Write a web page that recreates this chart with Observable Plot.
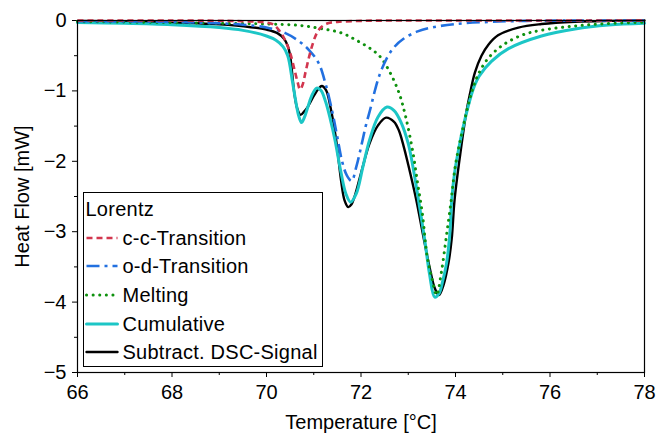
<!DOCTYPE html>
<html>
<head>
<meta charset="utf-8">
<script src="https://cdn.jsdelivr.net/npm/d3@7"></script>
<script src="https://cdn.jsdelivr.net/npm/@observablehq/plot@0.6"></script>
<style>
  html, body { margin: 0; padding: 0; background: #fff; }
  #wrap { position: relative; width: 656px; height: 433px; font-family: "Liberation Sans", Arial, sans-serif; }
  #legend { position: absolute; left: 83px; top: 192px; width: 238px; height: 173px; border: 1.5px solid #000; background: #fff; box-sizing: content-box; }
  .lrow { position: absolute; font-size: 20px; line-height: 24px; white-space: nowrap; color: #000; letter-spacing: 0.25px; }
  .lsample { position: absolute; }
</style>
</head>
<body>
<div id="wrap"><div id="chart"></div><div id="legend"></div></div>
<script>
// ---- data (Temperature in °C, Heat Flow in mW) ----
const ccT = [66, 68, 69.5, 70.0, 70.15, 70.3, 70.4, 70.5, 70.6, 70.66, 70.71, 70.76, 70.83, 70.9, 70.97, 71.05, 71.15, 71.3, 71.5, 72, 74, 78];
const ccY = [0, 0, -0.01, -0.03, -0.06, -0.17, -0.29, -0.46, -0.72, -0.88, -0.98, -0.92, -0.72, -0.52, -0.35, -0.2, -0.1, -0.04, -0.02, -0.005, 0, 0];

const odT = [66, 68, 69, 69.5, 70.0, 70.4, 70.7, 70.9, 71.1, 71.25, 71.4, 71.5, 71.6, 71.7, 71.8, 71.9, 72.0, 72.1, 72.2, 72.3, 72.4, 72.55, 72.7, 72.9, 73.2, 73.5, 74, 74.7, 75.5, 78];
const odY = [-0.01, -0.02, -0.04, -0.06, -0.1, -0.18, -0.3, -0.42, -0.6, -0.9, -1.32, -1.66, -2.0, -2.2, -2.28, -2.08, -1.8, -1.5, -1.25, -0.98, -0.76, -0.53, -0.38, -0.26, -0.155, -0.1, -0.05, -0.02, -0.005, 0];

const meltT = [66, 68, 69, 70, 70.7, 71.2, 71.6, 71.9, 72.2, 72.4, 72.6, 72.8, 72.95, 73.1, 73.2, 73.3, 73.4, 73.5, 73.6, 73.7, 73.8, 73.9, 74.0, 74.15, 74.3, 74.4, 74.5, 74.7, 75.0, 75.4, 75.8, 76.5, 77.2, 78];
const meltY = [-0.015, -0.03, -0.04, -0.05, -0.07, -0.12, -0.18, -0.28, -0.4, -0.51, -0.72, -1.02, -1.38, -1.88, -2.32, -2.75, -3.35, -3.66, -3.9, -3.58, -3.1, -2.6, -2.05, -1.55, -1.12, -0.9, -0.74, -0.53, -0.35, -0.21, -0.14, -0.08, -0.045, -0.025];

const cumT = [66, 67, 68, 69, 69.5, 70.0, 70.2, 70.35, 70.45, 70.55, 70.62, 70.68, 70.74, 70.8, 70.87, 70.95, 71.06, 71.15, 71.25, 71.35, 71.45, 71.58, 71.68, 71.78, 71.9, 72.04, 72.18, 72.36, 72.55, 72.7, 72.85, 73.0, 73.1, 73.2, 73.35, 73.45, 73.56, 73.65, 73.73, 73.81, 73.88, 73.92, 73.98, 74.06, 74.15, 74.3, 74.4, 74.5, 74.76, 75.12, 75.82, 76.53, 77.24, 78];
const cumY = [-0.03, -0.04, -0.06, -0.1, -0.14, -0.22, -0.28, -0.37, -0.5, -0.87, -1.15, -1.35, -1.45, -1.38, -1.24, -1.08, -0.96, -0.99, -1.15, -1.4, -1.7, -2.17, -2.46, -2.58, -2.46, -2.08, -1.7, -1.37, -1.23, -1.28, -1.45, -1.75, -2.08, -2.48, -3.12, -3.6, -3.93, -3.88, -3.7, -3.45, -3.03, -2.55, -2.17, -1.85, -1.55, -1.14, -0.93, -0.79, -0.58, -0.4, -0.22, -0.12, -0.064, -0.04];

const dscT = [66, 67, 68, 69, 69.67, 70.0, 70.23, 70.37, 70.45, 70.5, 70.59, 70.65, 70.72, 70.8, 70.87, 71.01, 71.1, 71.17, 71.26, 71.36, 71.47, 71.58, 71.65, 71.73, 71.8, 71.86, 72.0, 72.18, 72.36, 72.53, 72.7, 72.8, 72.9, 73.0, 73.17, 73.3, 73.45, 73.56, 73.65, 73.75, 73.85, 73.92, 73.98, 74.1, 74.23, 74.3, 74.41, 74.55, 74.7, 74.9, 75.33, 75.82, 76.53, 77.3, 78];
const dscY = [-0.005, -0.01, -0.03, -0.055, -0.095, -0.13, -0.18, -0.26, -0.36, -0.5, -1.04, -1.25, -1.34, -1.29, -1.23, -1.06, -0.97, -0.93, -0.99, -1.25, -1.68, -2.28, -2.55, -2.65, -2.61, -2.51, -2.17, -1.75, -1.49, -1.38, -1.44, -1.56, -1.78, -2.05, -2.55, -3.0, -3.5, -3.8, -3.9, -3.75, -3.45, -3.1, -2.55, -1.9, -1.3, -1.06, -0.74, -0.5, -0.34, -0.21, -0.1, -0.05, -0.017, -0.005, 0];

const seriesNames = ["c-c-Transition", "o-d-Transition", "Melting", "Cumulative", "Subtract. DSC-Signal"];
const legendTitle = "Lorentz";
const xMajor = [66, 68, 70, 72, 74, 76, 78];
const xMinor = [67, 69, 71, 73, 75, 77];
const yMajor = [-5, -4, -3, -2, -1, 0];
const yMinor = [-4.5, -3.5, -2.5, -1.5, -0.5];
const xLabel = "Temperature [°C]";
const yLabel = "Heat Flow [mW]";

// ---- styles ----
const styles = [
  {stroke: "#d2364e", strokeWidth: 2.6, strokeDasharray: "6,4", strokeLinecap: "butt"},
  {stroke: "#2270e0", strokeWidth: 2.6, strokeDasharray: "13,5,3,5", strokeLinecap: "butt"},
  {stroke: "#0e910e", strokeWidth: 3, strokeDasharray: "0.1,6.5", strokeLinecap: "round"},
  {stroke: "#1cc6c6", strokeWidth: 3, strokeDasharray: null, strokeLinecap: "round"},
  {stroke: "#000000", strokeWidth: 2.4, strokeDasharray: null, strokeLinecap: "round"}
];

const toRows = (T, Y) => T.map((t, i) => ({t, v: Y[i]}));
const series = [toRows(ccT, ccY), toRows(odT, odY), toRows(meltT, meltY), toRows(cumT, cumY), toRows(dscT, dscY)];

const lineMark = (k) => Plot.line(series[k], {
  x: "t", y: "v", curve: "catmull-rom",
  stroke: styles[k].stroke, strokeWidth: styles[k].strokeWidth,
  strokeDasharray: styles[k].strokeDasharray || undefined,
  strokeLinecap: styles[k].strokeLinecap, strokeLinejoin: "round"
});

const yFmt = (d) => d === 0 ? "0" : (d < 0 ? "\u2212" : "") + Math.abs(d);

const chart = Plot.plot({
  width: 656, height: 433,
  marginLeft: 77, marginRight: 12, marginTop: 20, marginBottom: 61,
  x: {domain: [66, 78]},
  y: {domain: [-5, 0]},
  style: {fontFamily: '"Liberation Sans", Arial, sans-serif', fontSize: "20px", color: "#000", background: "#fff", overflow: "visible"},
  marks: [
    Plot.axisX(xMajor, {tickSize: 5, tickPadding: 7, fontSize: 20, tickFormat: (d) => String(d), label: xLabel, labelAnchor: "center", labelOffset: 56, labelArrow: "none"}),
    Plot.axisX(xMinor, {tickSize: 3, tickFormat: () => "", label: null}),
    Plot.axisY(yMajor, {tickSize: 5, tickPadding: 6, fontSize: 20, tickFormat: yFmt, label: yLabel, labelAnchor: "center", labelOffset: 63, labelArrow: "none"}),
    Plot.axisY(yMinor, {tickSize: 3, tickFormat: () => "", label: null}),
    lineMark(4),
    lineMark(3),
    lineMark(2),
    lineMark(1),
    lineMark(0),
    Plot.frame({stroke: "#000", strokeWidth: 1.2})
  ]
});
document.getElementById("chart").appendChild(chart);

// ---- legend (inside the plot area) ----
const legend = document.getElementById("legend");
const L0 = 192, Lx = 83;
const title = document.createElement("div");
title.className = "lrow";
title.style.left = (86 - Lx - 1.5) + "px";
title.style.top = (209 - 12 - L0 - 1.5) + "px";
title.textContent = legendTitle;
legend.appendChild(title);
const rowY = [238, 266.5, 295, 324, 352.5];
seriesNames.forEach((name, i) => {
  const s = styles[i];
  const svgNS = "http://www.w3.org/2000/svg";
  const sv = document.createElementNS(svgNS, "svg");
  sv.setAttribute("width", 34); sv.setAttribute("height", 8);
  sv.setAttribute("class", "lsample");
  sv.style.left = (85 - Lx - 1.5) + "px";
  sv.style.top = (rowY[i] - 4 - L0 - 1.5) + "px";
  const ln = document.createElementNS(svgNS, "line");
  ln.setAttribute("x1", 1.5); ln.setAttribute("x2", 32.5);
  ln.setAttribute("y1", 4); ln.setAttribute("y2", 4);
  ln.setAttribute("stroke", s.stroke);
  ln.setAttribute("stroke-width", s.strokeWidth);
  if (s.strokeDasharray) ln.setAttribute("stroke-dasharray", s.strokeDasharray);
  ln.setAttribute("stroke-linecap", s.strokeLinecap);
  sv.appendChild(ln);
  legend.appendChild(sv);
  const t = document.createElement("div");
  t.className = "lrow";
  t.style.left = (123 - Lx - 1.5) + "px";
  t.style.top = (rowY[i] - 12 - L0 - 1.5) + "px";
  t.textContent = name;
  legend.appendChild(t);
});
</script>
</body>
</html>
